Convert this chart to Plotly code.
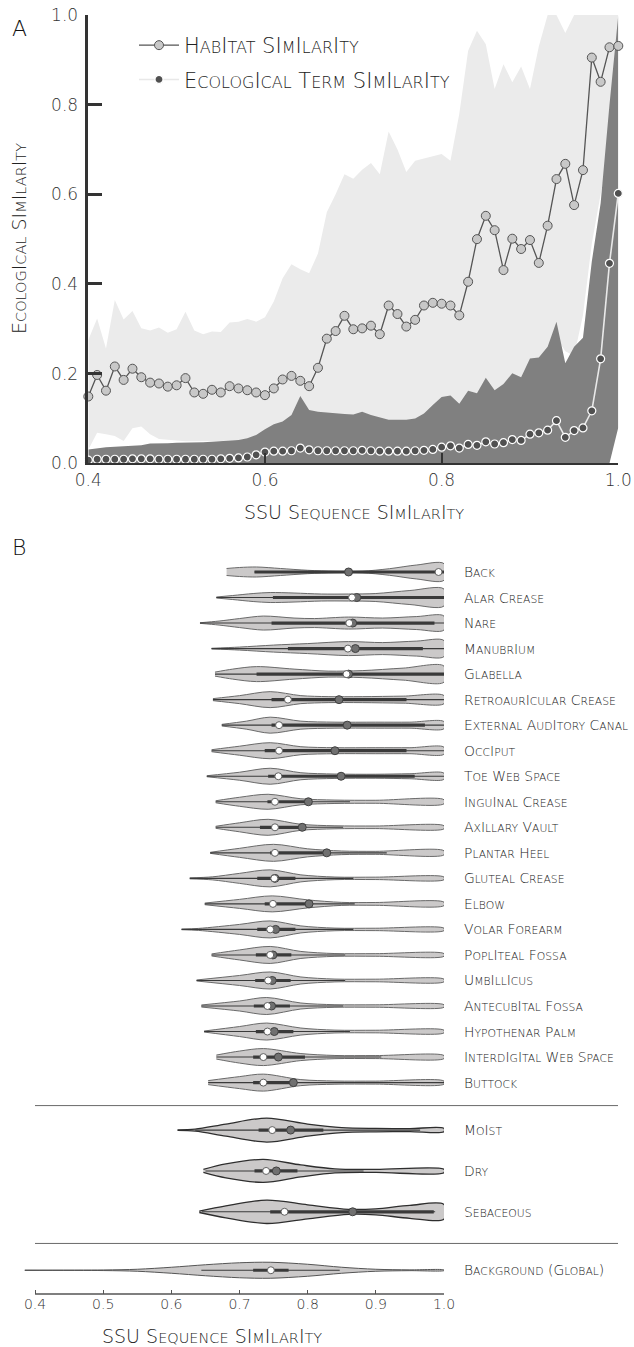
import plotly.graph_objects as go

# ---------------- Panel A data ----------------
ssu_sim = [0.40, 0.41, 0.42, 0.43, 0.44, 0.45, 0.46, 0.47, 0.48, 0.49,
           0.50, 0.51, 0.52, 0.53, 0.54, 0.55, 0.56, 0.57, 0.58, 0.59,
           0.60, 0.61, 0.62, 0.63, 0.64, 0.65, 0.66, 0.67, 0.68, 0.69,
           0.70, 0.71, 0.72, 0.73, 0.74, 0.75, 0.76, 0.77, 0.78, 0.79,
           0.80, 0.81, 0.82, 0.83, 0.84, 0.85, 0.86, 0.87, 0.88, 0.89,
           0.90, 0.91, 0.92, 0.93, 0.94, 0.95, 0.96, 0.97, 0.98, 0.99, 1.00]

habitat_mean = [0.149, 0.197, 0.162, 0.216, 0.186, 0.211, 0.192, 0.180, 0.178, 0.171,
                0.174, 0.190, 0.158, 0.155, 0.164, 0.158, 0.172, 0.167, 0.163, 0.158,
                0.152, 0.167, 0.187, 0.195, 0.184, 0.172, 0.213, 0.278, 0.295, 0.329,
                0.299, 0.301, 0.307, 0.288, 0.352, 0.333, 0.305, 0.320, 0.352, 0.358,
                0.356, 0.352, 0.330, 0.405, 0.500, 0.552, 0.520, 0.431, 0.501, 0.478,
                0.498, 0.447, 0.530, 0.634, 0.668, 0.576, 0.654, 0.905, 0.851, 0.928, 0.931]

habitat_lo = [0.030, 0.068, 0.065, 0.061, 0.050, 0.078, 0.082, 0.065, 0.054, 0.052,
              0.050, 0.049, 0.049, 0.049, 0.050, 0.050, 0.051, 0.052, 0.053, 0.055,
              0.060, 0.070, 0.080, 0.090, 0.100, 0.100, 0.100, 0.100, 0.100, 0.100,
              0.100, 0.100, 0.100, 0.095, 0.095, 0.095, 0.095, 0.095, 0.100, 0.110,
              0.120, 0.130, 0.130, 0.140, 0.150, 0.160, 0.160, 0.170, 0.180, 0.190,
              0.200, 0.220, 0.240, 0.280, 0.250, 0.240, 0.330, 0.490, 0.600, 0.700, 0.800]

habitat_hi = [0.275, 0.323, 0.256, 0.364, 0.321, 0.340, 0.301, 0.296, 0.303, 0.291,
              0.299, 0.338, 0.296, 0.288, 0.294, 0.293, 0.314, 0.316, 0.322, 0.316,
              0.326, 0.361, 0.413, 0.444, 0.433, 0.424, 0.468, 0.560, 0.600, 0.645,
              0.635, 0.655, 0.670, 0.645, 0.740, 0.700, 0.650, 0.675, 0.680, 0.685,
              0.690, 0.675, 0.780, 0.920, 0.965, 0.935, 0.835, 0.890, 0.850, 0.885,
              0.835, 0.930, 1.000, 1.000, 0.960, 1.000, 1.000, 1.000, 1.000, 1.000, 1.000]

eco_mean = [0.007, 0.009, 0.009, 0.009, 0.009, 0.010, 0.010, 0.010, 0.009, 0.009,
            0.009, 0.009, 0.009, 0.009, 0.009, 0.010, 0.011, 0.012, 0.014, 0.019,
            0.025, 0.027, 0.027, 0.028, 0.034, 0.030, 0.028, 0.028, 0.028, 0.028,
            0.028, 0.029, 0.028, 0.027, 0.027, 0.027, 0.027, 0.028, 0.029, 0.031,
            0.036, 0.039, 0.034, 0.042, 0.040, 0.048, 0.043, 0.046, 0.053, 0.051,
            0.065, 0.068, 0.074, 0.095, 0.058, 0.073, 0.079, 0.117, 0.233, 0.446, 0.602]

eco_lo = [0.0, 0.0, 0.0, 0.0, 0.0, 0.0, 0.0, 0.0, 0.0, 0.0,
          0.0, 0.0, 0.0, 0.0, 0.0, 0.0, 0.0, 0.0, 0.0, 0.0,
          0.0, 0.0, 0.0, 0.0, 0.0, 0.0, 0.0, 0.0, 0.0, 0.0,
          0.0, 0.0, 0.0, 0.0, 0.0, 0.0, 0.0, 0.0, 0.0, 0.0,
          0.0, 0.0, 0.0, 0.0, 0.0, 0.0, 0.0, 0.0, 0.0, 0.0,
          0.0, 0.0, 0.0, 0.0, 0.0, 0.0, 0.0, 0.0, 0.0, 0.0, 0.08]

eco_hi = [0.031, 0.034, 0.036, 0.037, 0.038, 0.039, 0.040, 0.044, 0.044, 0.045,
          0.046, 0.046, 0.047, 0.047, 0.048, 0.049, 0.050, 0.052, 0.056, 0.063,
          0.076, 0.087, 0.093, 0.108, 0.150, 0.119, 0.115, 0.113, 0.111, 0.110,
          0.109, 0.115, 0.108, 0.103, 0.097, 0.097, 0.097, 0.100, 0.111, 0.130,
          0.148, 0.151, 0.133, 0.162, 0.156, 0.191, 0.163, 0.177, 0.201, 0.192,
          0.234, 0.236, 0.260, 0.316, 0.223, 0.260, 0.280, 0.450, 0.580, 0.800, 1.000]

a_xticks = [0.4, 0.6, 0.8, 1.0]
a_xticklabels = ["0.4", "0.6", "0.8", "1.0"]
a_yticks = [0.0, 0.2, 0.4, 0.6, 0.8, 1.0]
a_yticklabels = ["0.0", "0.2", "0.4", "0.6", "0.8", "1.0"]

# ---------------- Panel B data ----------------
sites = ["Back", "Alar Crease", "Nare", "Manubrium", "Glabella",
         "Retroauricular Crease", "External Auditory Canal", "Occiput",
         "Toe Web Space", "Inguinal Crease", "Axillary Vault", "Plantar Heel",
         "Gluteal Crease", "Elbow", "Volar Forearm", "Popliteal Fossa",
         "Umbillicus", "Antecubital Fossa", "Hypothenar Palm",
         "Interdigital Web Space", "Buttock"]
site_whisker_lo = [0.722, 0.666, 0.642, 0.659, 0.664, 0.661, 0.674, 0.659, 0.652, 0.665,
                   0.665, 0.657, 0.627, 0.649, 0.615, 0.659, 0.637, 0.644, 0.648, 0.666, 0.654]
site_whisker_hi = [1.0, 1.0, 1.0, 1.0, 1.0, 1.0, 1.0, 1.0, 1.0, 0.862,
                   0.852, 0.916, 0.867, 0.869, 0.867, 0.855, 0.855, 0.852, 0.862, 0.908, 1.0]
site_q1 = [0.722, 0.749, 0.747, 0.771, 0.725, 0.747, 0.747, 0.737, 0.742, 0.741,
           0.730, 0.745, 0.726, 0.737, 0.726, 0.724, 0.723, 0.721, 0.724, 0.720, 0.720]
site_q3 = [1.0, 1.0, 0.986, 0.969, 1.0, 0.945, 0.972, 0.945, 0.957, 0.800,
           0.791, 0.828, 0.782, 0.803, 0.782, 0.776, 0.775, 0.774, 0.779, 0.796, 0.781]
site_median = [0.992, 0.865, 0.861, 0.859, 0.857, 0.771, 0.758, 0.758, 0.757, 0.752,
               0.752, 0.752, 0.751, 0.749, 0.745, 0.745, 0.742, 0.741, 0.741, 0.735, 0.735]
site_mean = [0.860, 0.872, 0.866, 0.870, 0.860, 0.846, 0.858, 0.840, 0.849, 0.801,
             0.792, 0.828, 0.752, 0.802, 0.753, 0.749, 0.748, 0.747, 0.751, 0.757, 0.779]
# violin density profiles: (similarity, half-width in px)
site_violin_x = [
    [0.681, 0.70, 0.725, 0.76, 0.80, 0.84, 0.88, 0.92, 0.96, 1.0],
    [0.666, 0.69, 0.72, 0.745, 0.78, 0.82, 0.86, 0.90, 0.95, 1.0],
    [0.642, 0.67, 0.70, 0.735, 0.78, 0.81, 0.86, 0.91, 0.96, 1.0],
    [0.659, 0.70, 0.75, 0.80, 0.86, 0.91, 0.96, 1.0],
    [0.664, 0.69, 0.725, 0.78, 0.83, 0.88, 0.94, 1.0],
    [0.661, 0.70, 0.745, 0.79, 0.83, 0.88, 0.94, 1.0],
    [0.674, 0.71, 0.745, 0.79, 0.84, 0.90, 0.95, 1.0],
    [0.659, 0.70, 0.745, 0.79, 0.84, 0.90, 0.95, 1.0],
    [0.652, 0.70, 0.745, 0.79, 0.84, 0.90, 0.95, 1.0],
    [0.665, 0.70, 0.742, 0.79, 0.84, 0.90, 1.0],
    [0.665, 0.70, 0.742, 0.79, 0.84, 0.90, 1.0],
    [0.657, 0.70, 0.75, 0.80, 0.85, 0.90, 1.0],
    [0.627, 0.66, 0.70, 0.745, 0.79, 0.84, 0.90, 1.0],
    [0.649, 0.70, 0.748, 0.80, 0.85, 0.90, 1.0],
    [0.615, 0.64, 0.70, 0.745, 0.79, 0.84, 0.90, 1.0],
    [0.659, 0.70, 0.745, 0.79, 0.84, 0.90, 1.0],
    [0.637, 0.70, 0.745, 0.79, 0.84, 0.90, 1.0],
    [0.644, 0.70, 0.74, 0.79, 0.84, 0.90, 1.0],
    [0.648, 0.70, 0.74, 0.79, 0.84, 0.90, 1.0],
    [0.666, 0.70, 0.735, 0.79, 0.84, 0.90, 1.0],
    [0.654, 0.70, 0.735, 0.79, 0.84, 0.90, 1.0],
]
site_violin_w = [
    [3.5, 4.5, 5.0, 3.5, 1.7, 0.7, 0.8, 3.3, 7.0, 8.3],
    [0.5, 2.0, 4.0, 5.0, 4.5, 3.5, 3.5, 4.0, 7.0, 8.5],
    [0.3, 2.0, 4.5, 7.0, 5.0, 4.5, 6.0, 5.0, 6.5, 7.0],
    [0.3, 1.5, 3.5, 5.0, 7.0, 6.0, 7.5, 8.0],
    [2.0, 5.0, 7.5, 5.0, 3.0, 3.5, 6.0, 8.0],
    [1.0, 4.0, 8.0, 4.0, 3.0, 3.0, 3.5, 4.0],
    [0.8, 4.0, 8.0, 4.0, 3.0, 3.0, 3.0, 3.5],
    [1.0, 4.5, 8.0, 4.0, 3.0, 3.0, 3.0, 3.5],
    [0.5, 4.0, 8.0, 3.5, 2.2, 2.0, 2.5, 3.0],
    [1.0, 4.5, 7.5, 3.0, 1.7, 1.5, 2.0],
    [1.0, 4.5, 8.0, 3.0, 1.5, 1.3, 1.5],
    [0.5, 4.5, 8.5, 4.0, 1.8, 1.5, 2.0],
    [0.5, 1.5, 5.0, 8.5, 3.5, 1.3, 1.2, 1.3],
    [0.8, 4.5, 8.0, 4.0, 1.5, 1.4, 1.7],
    [0.3, 1.0, 5.0, 8.5, 3.5, 1.3, 1.2, 1.2],
    [1.0, 5.0, 8.5, 3.5, 1.4, 1.3, 1.3],
    [0.5, 5.0, 8.5, 3.5, 1.4, 1.3, 1.3],
    [1.0, 5.0, 8.5, 3.0, 1.3, 1.2, 1.2],
    [0.5, 5.0, 8.5, 3.5, 1.4, 1.3, 1.3],
    [2.0, 6.0, 8.5, 3.5, 1.6, 1.5, 1.5],
    [2.0, 6.0, 8.5, 3.0, 1.6, 1.5, 1.5],
]

moisture = ["Moist", "Dry", "Sebaceous"]
moist_whisker_lo = [0.635, 0.650, 0.645]
moist_whisker_hi = [0.965, 0.882, 0.987]
moist_q1 = [0.728, 0.722, 0.745]
moist_q3 = [0.823, 0.785, 0.985]
moist_median = [0.748, 0.739, 0.766]
moist_mean = [0.775, 0.754, 0.866]
moist_violin_x = [
    [0.609, 0.635, 0.68, 0.74, 0.80, 0.85, 0.90, 0.95, 1.0],
    [0.647, 0.68, 0.735, 0.79, 0.84, 0.90, 1.0],
    [0.641, 0.68, 0.74, 0.80, 0.86, 0.90, 0.95, 1.0],
]
moist_violin_w = [
    [0.3, 1.0, 6.0, 12.0, 6.0, 2.5, 1.7, 1.5, 1.7],
    [1.5, 7.0, 11.5, 6.0, 2.0, 1.5, 1.7],
    [0.7, 6.0, 11.7, 7.0, 2.5, 3.0, 6.5, 7.3],
]

background = ["Background (Global)"]
bg_whisker_lo = [0.644]
bg_whisker_hi = [0.847]
bg_q1 = [0.720]
bg_q3 = [0.772]
bg_median = [0.746]
bg_violin_x = [[0.385, 0.50, 0.55, 0.60, 0.65, 0.70, 0.745, 0.80, 0.85, 0.90, 0.95, 1.0]]
bg_violin_w = [[0.2, 0.3, 1.0, 3.0, 5.5, 7.5, 8.0, 6.0, 3.0, 1.0, 0.4, 0.3]]

b_xticks = [0.4, 0.5, 0.6, 0.7, 0.8, 0.9, 1.0]
b_xticklabels = ["0.4", "0.5", "0.6", "0.7", "0.8", "0.9", "1.0"]

# ---------------- layout constants ----------------
W, H = 634, 1347
FONT = "DejaVu Sans"
TXT = "#222222"
ROW_PX = 25.53          # pixels per row unit in panel B


def px_x(p):
    return p / W


def px_y(p):
    return 1 - p / H


def smallcaps(text, big, small):
    out, buf, cur = [], "", None
    for ch in text:
        if ch == "i":
            s, c = big, "I"
        elif ch.islower():
            s, c = small, ch.upper()
        else:
            s, c = big, ch
        if cur is not None and s != cur:
            out.append('<span style="font-size:%gpx">%s</span>' % (cur, buf))
            buf = ""
        cur = s
        buf += c
    if buf:
        out.append('<span style="font-size:%gpx">%s</span>' % (cur, buf))
    return "".join(out)


fig = go.Figure()

# ---- Panel A ----
fig.add_trace(go.Scatter(x=ssu_sim, y=habitat_lo, mode="lines", line=dict(width=0, color="#ebebeb"),
                         showlegend=False, hoverinfo="skip", xaxis="x", yaxis="y"))
fig.add_trace(go.Scatter(x=ssu_sim, y=habitat_hi, mode="lines", line=dict(width=0, color="#ebebeb"),
                         fill="tonexty", fillcolor="#ebebeb", showlegend=False, hoverinfo="skip",
                         xaxis="x", yaxis="y"))
fig.add_trace(go.Scatter(x=ssu_sim, y=eco_lo, mode="lines", line=dict(width=0, color="#808080"),
                         showlegend=False, hoverinfo="skip", xaxis="x", yaxis="y"))
fig.add_trace(go.Scatter(x=ssu_sim, y=eco_hi, mode="lines", line=dict(width=0, color="#808080"),
                         fill="tonexty", fillcolor="#808080", showlegend=False, hoverinfo="skip",
                         xaxis="x", yaxis="y"))
fig.add_trace(go.Scatter(x=ssu_sim, y=habitat_mean, mode="lines+markers",
                         name=smallcaps("Habitat Similarity", 21, 16),
                         line=dict(color="#555555", width=1.3),
                         marker=dict(size=9, color="#c8c8c8", line=dict(color="#555555", width=1)),
                         cliponaxis=False, legendgroup="h", xaxis="x", yaxis="y"))
fig.add_trace(go.Scatter(x=ssu_sim, y=eco_mean, mode="lines+markers",
                         name=smallcaps("Ecological Term Similarity", 21, 16),
                         line=dict(color="#e8e8e8", width=1.6),
                         marker=dict(size=8, color="#505050", line=dict(color="#ffffff", width=1.2)),
                         cliponaxis=False, legendgroup="e", xaxis="x", yaxis="y"))

# ---- Panel B ----
VIOLIN_FILL = "#cbc9c9"


def add_violin(xs, ws, c, outline, lw):
    yu = [c - w / ROW_PX for w in ws]
    yl = [c + w / ROW_PX for w in ws]
    fig.add_trace(go.Scatter(x=xs + xs[::-1], y=yu + yl[::-1], mode="lines", fill="toself",
                             fillcolor=VIOLIN_FILL,
                             line=dict(color=outline, width=lw, shape="spline", smoothing=0.9),
                             showlegend=False, hoverinfo="skip", xaxis="x2", yaxis="y2"))


def add_box(wlo, whi, q1, q3, med, mean, c):
    fig.add_trace(go.Scatter(x=[wlo, whi], y=[c, c], mode="lines", line=dict(color="#3a3a3a", width=1.1),
                             showlegend=False, hoverinfo="skip", xaxis="x2", yaxis="y2"))
    fig.add_trace(go.Scatter(x=[q1, q3], y=[c, c], mode="lines", line=dict(color="#3a3a3a", width=3.2),
                             showlegend=False, hoverinfo="skip", xaxis="x2", yaxis="y2"))
    if mean is not None:
        fig.add_trace(go.Scatter(x=[mean], y=[c], mode="markers",
                                 marker=dict(size=8, color="#707070", line=dict(color="#404040", width=1)),
                                 showlegend=False, hoverinfo="skip", cliponaxis=False,
                                 xaxis="x2", yaxis="y2"))
    fig.add_trace(go.Scatter(x=[med], y=[c], mode="markers",
                             marker=dict(size=7, color="#ffffff", line=dict(color="#606060", width=1)),
                             showlegend=False, hoverinfo="skip", cliponaxis=False,
                             xaxis="x2", yaxis="y2"))


site_rows = list(range(len(sites)))
moist_rows = [21.86, 23.46, 25.06]
bg_rows = [27.35]
separators = [20.9, 26.3]

for i, r in enumerate(site_rows):
    add_violin(site_violin_x[i], site_violin_w[i], r, "#6a6a6a", 1)
    add_box(site_whisker_lo[i], site_whisker_hi[i], site_q1[i], site_q3[i], site_median[i], site_mean[i], r)
for i, r in enumerate(moist_rows):
    add_violin(moist_violin_x[i], moist_violin_w[i], r, "#2e2e2e", 1.3)
    add_box(moist_whisker_lo[i], moist_whisker_hi[i], moist_q1[i], moist_q3[i], moist_median[i], moist_mean[i], r)
for i, r in enumerate(bg_rows):
    add_violin(bg_violin_x[i], bg_violin_w[i], r, "#555555", 1)
    add_box(bg_whisker_lo[i], bg_whisker_hi[i], bg_q1[i], bg_q3[i], bg_median[i], None, r)

annotations = []
for name, r in zip(sites + moisture + background, site_rows + moist_rows + bg_rows):
    annotations.append(dict(text=smallcaps(name, 13.9, 10.8), x=px_x(462), y=r, xref="paper", yref="y2",
                            xanchor="left", yanchor="middle", showarrow=False,
                            font=dict(size=13.9, color=TXT)))

annotations += [
    dict(text="A", x=px_x(10), y=px_y(28), xref="paper", yref="paper", xanchor="left", yanchor="middle",
         showarrow=False, font=dict(size=22, color="#111111")),
    dict(text="B", x=px_x(10), y=px_y(548), xref="paper", yref="paper", xanchor="left", yanchor="middle",
         showarrow=False, font=dict(size=22, color="#111111")),
    dict(text=smallcaps("Ecological Similarity", 19, 14.5), x=px_x(19), y=px_y(239), xref="paper",
         yref="paper", textangle=-90, xanchor="center", yanchor="middle", showarrow=False,
         font=dict(size=19, color=TXT)),
    dict(text=smallcaps("SSU Sequence Similarity", 19, 14.5), x=px_x(354), y=px_y(512), xref="paper",
         yref="paper", xanchor="center", yanchor="middle", showarrow=False,
         font=dict(size=19, color=TXT)),
    dict(text=smallcaps("SSU Sequence Similarity", 19, 14.5), x=px_x(212), y=px_y(1336), xref="paper",
         yref="paper", xanchor="center", yanchor="middle", showarrow=False,
         font=dict(size=19, color=TXT)),
]

shapes = []
for s in separators:
    shapes.append(dict(type="line", xref="paper", yref="y2", x0=px_x(35), x1=px_x(618), y0=s, y1=s,
                       line=dict(color="#6a6a6a", width=1)))
shapes.append(dict(type="line", xref="x2", yref="y2 domain", x0=b_xticks[0], x1=b_xticks[-1], y0=0, y1=0,
                   line=dict(color="#555555", width=1.3)))

fig.update_layout(
    template="none",
    width=W, height=H, margin=dict(l=0, r=0, t=0, b=0, autoexpand=False),
    paper_bgcolor="white", plot_bgcolor="rgba(0,0,0,0)",
    font=dict(family=FONT, color=TXT, weight=200),
    showlegend=True,
    legend=dict(x=px_x(134), y=px_y(25), xanchor="left", yanchor="top", bgcolor="rgba(0,0,0,0)",
                font=dict(size=21, color=TXT), traceorder="grouped", tracegroupgap=4, itemwidth=40),
    xaxis=dict(domain=[px_x(88.3), px_x(618.3)], range=[0.4, 1.0], tickvals=a_xticks,
               ticktext=a_xticklabels, ticks="inside", ticklen=10, tickwidth=2, tickcolor="#333333",
               showline=True, linecolor="#333333", linewidth=2, showgrid=False, zeroline=False,
               tickfont=dict(size=17, color="#333333"), anchor="y", automargin=False,
               ticklabeloverflow="allow"),
    yaxis=dict(domain=[px_y(463.3), px_y(15)], range=[0, 1.0], tickvals=a_yticks,
               ticktext=a_yticklabels, ticks="inside", ticklen=14, tickwidth=2.5, tickcolor="#333333",
               showline=True, linecolor="#333333", linewidth=2.5, showgrid=False, zeroline=False,
               tickfont=dict(size=17, color="#333333"), ticklabelstandoff=4, anchor="x", automargin=False,
               ticklabeloverflow="allow"),
    xaxis2=dict(domain=[px_x(21.4), px_x(444)], range=[0.38, 1.0], tickvals=b_xticks,
                ticktext=b_xticklabels, ticks="inside", ticklen=4, tickwidth=1.2, tickcolor="#555555",
                showline=False, showgrid=False, zeroline=False,
                tickfont=dict(size=14, color="#333333"), anchor="y2", automargin=False,
                ticklabeloverflow="allow"),
    yaxis2=dict(domain=[px_y(1294), px_y(540)], range=[28.28, -1.253], visible=False,
                showgrid=False, zeroline=False, anchor="x2", automargin=False),
    annotations=annotations,
    shapes=shapes,
)

# the page's default 8px body margin would shift the figure; remove it so the
# 634x1347 figure fills the window exactly, and hide the interactive mode bar
fig.write_html("out.html", config={"displayModeBar": False},
               post_script="document.body.style.margin='0px';")
